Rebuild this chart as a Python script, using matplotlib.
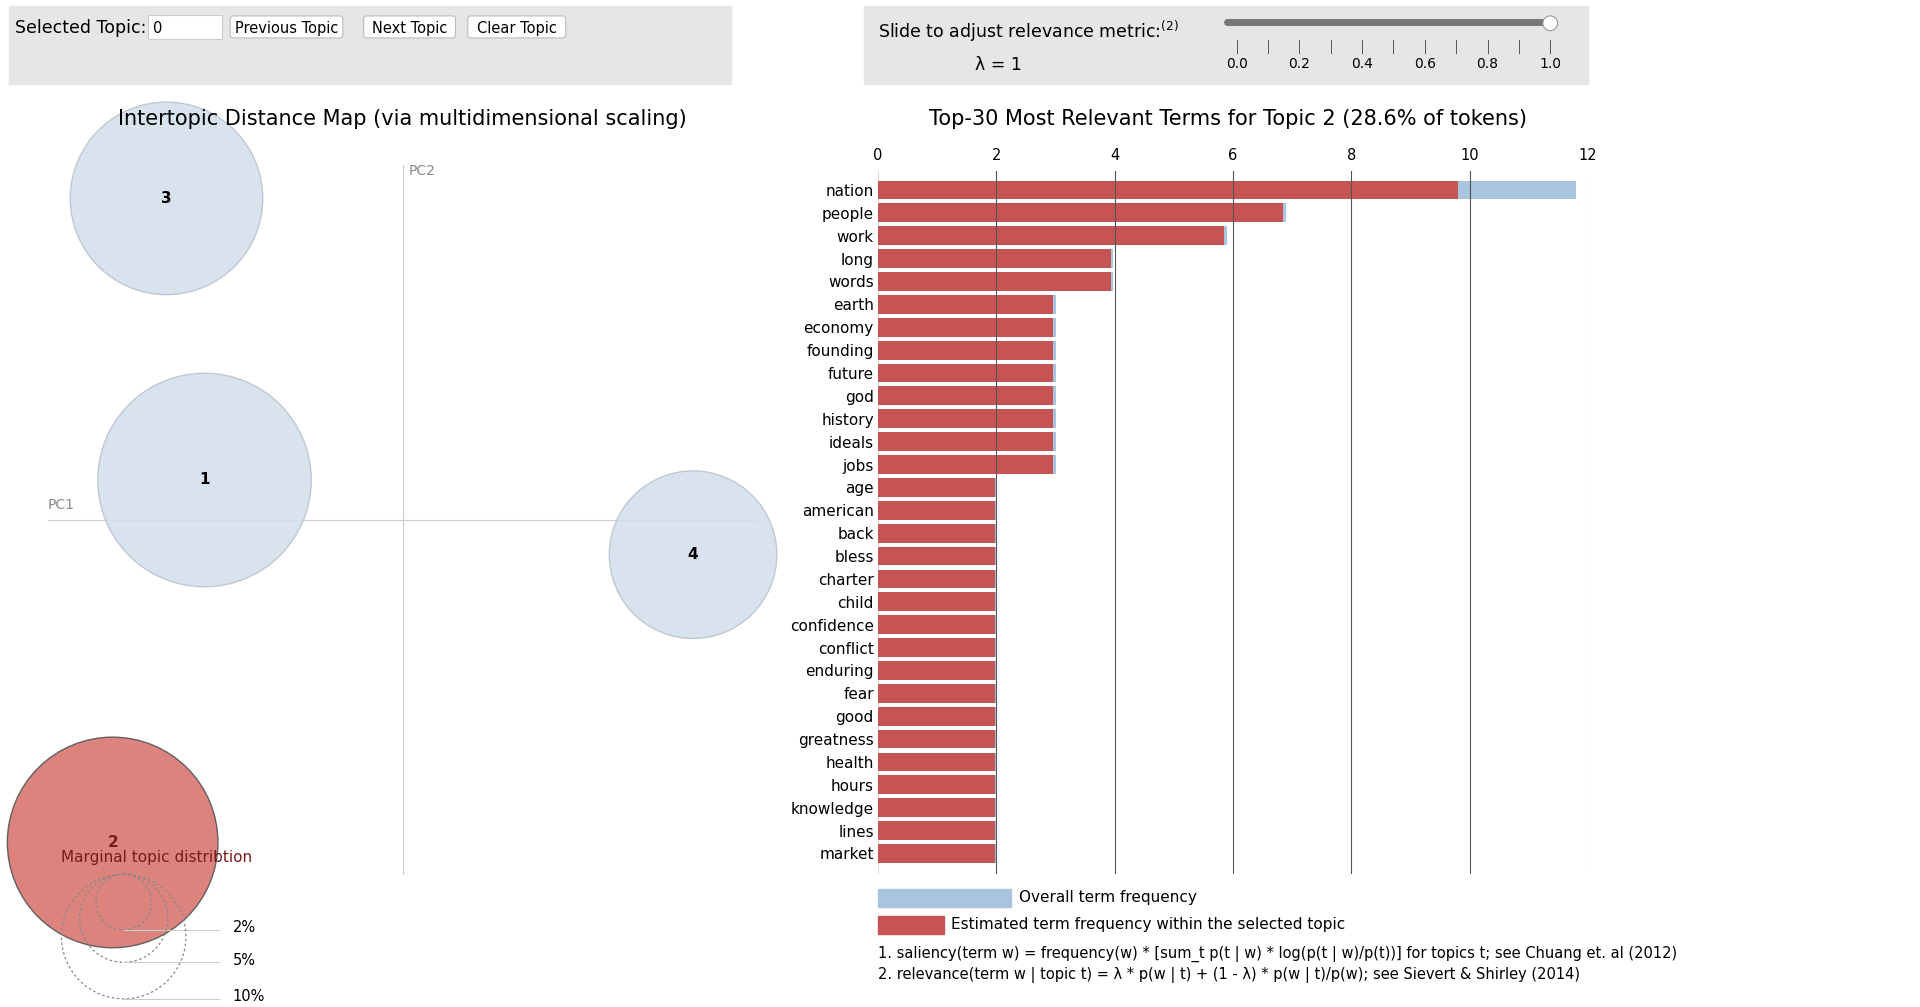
import numpy as np
import matplotlib
matplotlib.use("Agg")
from matplotlib import pyplot as plt
from matplotlib.patches import Circle, Rectangle, FancyBboxPatch

# data
topics = ["1", "2", "3", "4"]
pc1 = [-0.162, -0.237, -0.193, 0.237]
pc2 = [0.033, -0.263, 0.263, -0.028]
pct = [29.4, 28.6, 23.9, 18.1]
selected = "2"
legend_pct = [2, 5, 10]

terms = ["nation", "people", "work", "long", "words", "earth", "economy", "founding",
         "future", "god", "history", "ideals", "jobs", "age", "american", "back", "bless",
         "charter", "child", "confidence", "conflict", "enduring", "fear", "good",
         "greatness", "health", "hours", "knowledge", "lines", "market"]
overall = [11.8, 6.9, 5.9, 3.97, 3.97] + [3.0] * 8 + [2.0] * 17
within = [9.8, 6.85, 5.85, 3.93, 3.93] + [2.95] * 8 + [1.97] * 17
xticks = [0, 2, 4, 6, 8, 10, 12]

S = 1920 / 1568  # reference layout measured at 1568 px wide
W, H = 1920, 1007
blue, red = "#a9c4de", "#c65454"

fig = plt.figure(figsize=(W / 100, H / 100), dpi=100)
ax = fig.add_axes([0, 0, 1, 1])
ax.set_xlim(0, W)
ax.set_ylim(H, 0)
ax.axis("off")

def p(v):
    return v * S

# top control panels
ax.add_patch(Rectangle((p(7), p(5)), p(590), p(64), color="#e6e6e6", zorder=0))
ax.add_patch(Rectangle((p(706), p(5)), p(591), p(64), color="#e6e6e6", zorder=0))
ax.text(p(12), p(23), "Selected Topic:", fontsize=12.5, va="center")
ax.add_patch(Rectangle((p(121), p(12)), p(60), p(20), fc="white", ec="#cccccc", lw=0.8))
ax.text(p(125), p(23), "0", fontsize=10.5, va="center")
for x0, w0, lab in [(188, 92, "Previous Topic"), (297, 75, "Next Topic"), (382, 80, "Clear Topic")]:
    ax.add_patch(FancyBboxPatch((p(x0), p(13)), p(w0), p(18), boxstyle="round,pad=0,rounding_size=3",
                                fc="white", ec="#bbbbbb", lw=0.8))
    ax.text(p(x0 + w0 / 2), p(23), lab, fontsize=10.5, ha="center", va="center")
ax.text(p(717), p(26), "Slide to adjust relevance metric:$^{(2)}$", fontsize=12.5, va="center")
ax.text(p(815), p(53), "λ = 1", fontsize=12.5, ha="center", va="center")
ax.plot([p(1002), p(1266)], [p(18), p(18)], color="#777777", lw=5, solid_capstyle="round")
ax.add_patch(Circle((p(1266), p(19)), p(6), fc="white", ec="#999999", lw=0.8, zorder=5))
for i in range(11):
    xx = p(1010 + 25.6 * i)
    ax.plot([xx, xx], [p(33), p(43)], color="#555555", lw=0.7)
    if i % 2 == 0:
        ax.text(xx, p(52), f"{i / 10:.1f}", fontsize=10, ha="center", va="center")

# intertopic distance map
cx, cy = p(329), p(425)
scale = p(1000)
ax.plot([p(39), p(619)], [cy, cy], color="#cccccc", lw=0.8)
ax.plot([cx, cx], [p(135), p(714)], color="#cccccc", lw=0.8)
ax.text(p(39), p(416), "PC1", fontsize=10, color="#888888")
ax.text(p(334), p(140), "PC2", fontsize=10, color="#888888", va="center")
ax.text(p(329), p(97), "Intertopic Distance Map (via multidimensional scaling)", fontsize=15,
        ha="center", va="center")
k = p(86) / np.sqrt(28.6)
for t, x1, y1, q in zip(topics, pc1, pc2, pct):
    sel = t == selected
    ax.add_patch(Circle((cx + x1 * scale, cy - y1 * scale), k * np.sqrt(q),
                        fc="#d97670" if sel else "#d3dfec", ec="#555555" if sel else "#b8c2cc",
                        lw=1, alpha=0.9 if sel else 0.85, zorder=2))
    ax.text(cx + x1 * scale, cy - y1 * scale, t, fontsize=11, fontweight="bold", ha="center",
            va="center", color="#7a1a1a" if sel else "black", zorder=3)
ax.text(p(50), p(700), "Marginal topic distribtion", fontsize=11, color="#7a1a1a", va="center", zorder=4)
lx, lbot = p(101), p(714 + 104)
for q in legend_pct:
    r = k * np.sqrt(q)
    ax.add_patch(Circle((lx, lbot - r), r, fill=False, ec="#888888", ls=(0, (2, 2)), lw=0.9, zorder=4))
    ax.plot([lx, p(179)], [lbot - 2 * r + 2 * r, lbot - 2 * r + 2 * r] if False else [lbot - 0, lbot - 0],
            alpha=0)
for q in legend_pct:
    r = k * np.sqrt(q)
    yb = lbot - 2 * r if False else None
# label lines at the bottom of each legend circle (all share bottom? no: they share top)
ltop = p(714)
for q in legend_pct:
    r = k * np.sqrt(q)
    ax.patches[-1]
for patch in list(ax.patches)[-3:]:
    patch.remove()
for q in legend_pct:
    r = k * np.sqrt(q)
    ax.add_patch(Circle((lx, ltop + r), r, fill=False, ec="#888888", ls=(0, (2, 2)), lw=0.9, zorder=4))
    ax.plot([lx, p(179)], [ltop + 2 * r, ltop + 2 * r], color="#cccccc", lw=0.8, zorder=4)
    ax.text(p(190), ltop + 2 * r - 2, f"{q}%", fontsize=10.5, va="center")

# bar chart
bx = fig.add_axes([878 / W, 1 - 874 / H, (1588 - 878) / W, (874 - 171) / H])
y = np.arange(len(terms))
bx.barh(y, overall, height=0.82, color=blue, zorder=2)
bx.barh(y, within, height=0.82, color=red, zorder=3)
bx.set_ylim(29.9, -0.83)
bx.set_xlim(0, 12)
bx.set_yticks(y)
bx.set_yticklabels(terms, fontsize=11)
bx.set_xticks(xticks)
bx.tick_params(axis="x", top=True, bottom=False, labeltop=True, labelbottom=False, labelsize=10.5,
               length=0, pad=6)
bx.tick_params(axis="y", length=0, pad=3)
for v in xticks[1:-1]:
    bx.axvline(v, color="#555555", lw=0.8, zorder=4)
bx.axvline(12, color="#dddddd", lw=0.8, zorder=1)
bx.axvline(0, color="#dddddd", lw=0.8, zorder=1)
for s in bx.spines.values():
    s.set_visible(False)
ax.text(p(1003), p(97), "Top-30 Most Relevant Terms for Topic 2 (28.6% of tokens)", fontsize=15,
        ha="center", va="center")

# bar legend and notes
ax.add_patch(Rectangle((p(717), p(726)), p(109), p(15), color=blue))
ax.add_patch(Rectangle((p(717), p(748)), p(54), p(15), color=red))
ax.text(p(832), p(733), "Overall term frequency", fontsize=11, va="center")
ax.text(p(777), p(755), "Estimated term frequency within the selected topic", fontsize=11, va="center")
ax.text(p(717), p(779), "1. saliency(term w) = frequency(w) * [sum_t p(t | w) * log(p(t | w)/p(t))] "
        "for topics t; see Chuang et. al (2012)", fontsize=10.5, va="center")
ax.text(p(717), p(796), "2. relevance(term w | topic t) = λ * p(w | t) + (1 - λ) * p(w | t)/p(w); "
        "see Sievert & Shirley (2014)", fontsize=10.5, va="center")

fig.savefig("out.png", dpi=100)
